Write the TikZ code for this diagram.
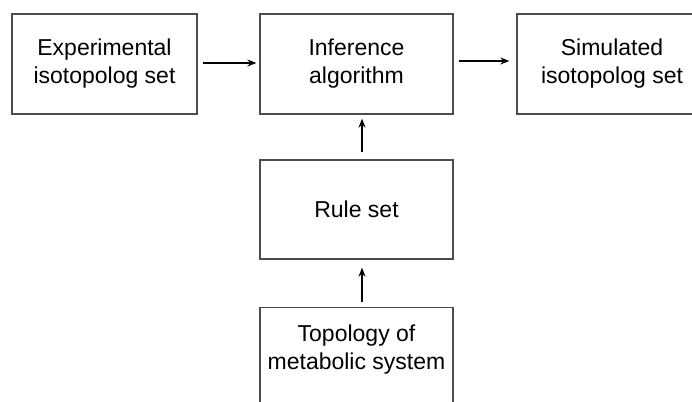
\documentclass[tikz,border=0pt]{standalone}
\usepackage{fontspec}
\setmainfont{Liberation Sans}
\usetikzlibrary{arrows.meta}
\begin{document}
\begin{tikzpicture}[x=1pt,y=-1pt,
  box/.style={draw=black!70, line width=1.3pt, fill=white, align=center,
    font=\fontsize{23}{28}\selectfont, inner sep=0pt, minimum height=100pt},
  txt/.style={align=center, font=\fontsize{23}{28}\selectfont, inner sep=0pt},
  arr/.style={line width=1.3pt, -{Stealth[length=9pt,width=7pt]}}]
\useasboundingbox (0,0) rectangle (692,401);
\clip (0,0) rectangle (692,401);
\fill[white] (0,0) rectangle (692,401);
\node[box, minimum width=185pt] (exp) at (104.5,64) {Experimental\\isotopolog set};
\node[box, minimum width=193pt] (inf) at (356.5,64) {Inference\\algorithm};
\node[box, minimum width=190pt] (sim) at (612,64) {Simulated\\isotopolog set};
\node[box, minimum width=193pt, minimum height=99pt] (rule) at (356.5,209.5) {Rule set};
\node[box, minimum width=193pt, anchor=north] (topo) at (356.5,307) {};
\node[txt] (topotext) at (356.5,350) {Topology of\\metabolic system};
\draw[arr, shorten <=5pt, shorten >=3pt] (exp.east |- 0,63) -- (inf.west |- 0,63);
\draw[arr, shorten <=5pt, shorten >=7pt] (inf.east |- 0,61) -- (sim.west |- 0,61);
\draw[arr, shorten <=7pt, shorten >=4pt] (rule.north -| 362,0) -- (inf.south -| 362,0);
\draw[arr, shorten <=5pt, shorten >=8pt] (topo.north -| 362,0) -- (rule.south -| 362,0);
\end{tikzpicture}
\end{document}
